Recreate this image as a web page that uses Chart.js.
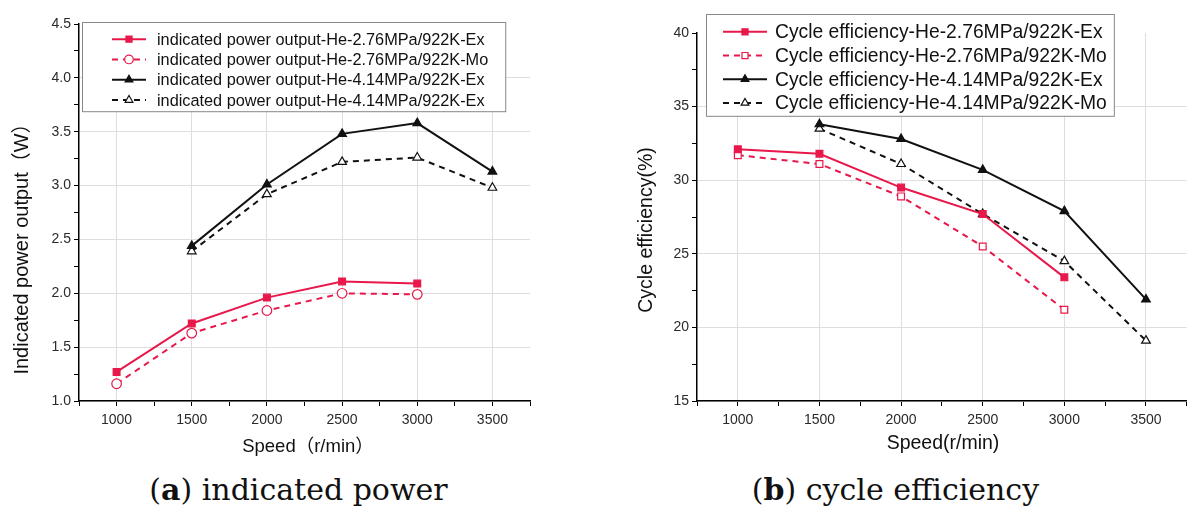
<!DOCTYPE html>
<html>
<head>
<meta charset="utf-8">
<script src="https://cdn.jsdelivr.net/npm/chart.js"></script>
<style>
  html, body { margin: 0; padding: 0; background: #fff; }
  #wrap { position: relative; width: 1193px; height: 520px; overflow: hidden; }
  canvas { position: absolute; top: 0; }
  .caption { position: absolute; top: 472px; width: 597px; text-align: center;
             font-family: "DejaVu Serif", serif; font-size: 30px; color: #111; }
</style>
</head>
<body>
<div id="wrap">
  <canvas id="powerChart" width="597" height="470" style="left:0"></canvas>
  <canvas id="effChart" width="596" height="470" style="left:597px"></canvas>
  <div class="caption" style="left:0">(<b>a</b>) indicated power</div>
  <div class="caption" style="left:597px">(<b>b</b>) cycle efficiency</div>
</div>
<script>
// speeds on the x axis (r/min)
const speeds = [1000, 1500, 2000, 2500, 3000, 3500];

// (a) indicated power output (W)
const powerLabels = [
  'indicated power output-He-2.76MPa/922K-Ex',
  'indicated power output-He-2.76MPa/922K-Mo',
  'indicated power output-He-4.14MPa/922K-Ex',
  'indicated power output-He-4.14MPa/922K-Ex'
];
const power276Ex = [1.27, 1.72, 1.96, 2.11, 2.09, null];
const power276Mo = [1.16, 1.63, 1.84, 2.00, 1.99, null];
const power414Ex = [null, 2.44, 3.01, 3.48, 3.58, 3.13];
const power414Mo = [null, 2.39, 2.92, 3.22, 3.26, 2.98];

// (b) cycle efficiency (%)
const effLabels = [
  'Cycle efficiency-He-2.76MPa/922K-Ex',
  'Cycle efficiency-He-2.76MPa/922K-Mo',
  'Cycle efficiency-He-4.14MPa/922K-Ex',
  'Cycle efficiency-He-4.14MPa/922K-Mo'
];
const eff276Ex = [32.1, 31.8, 29.5, 27.7, 23.4, null];
const eff276Mo = [31.7, 31.1, 28.9, 25.5, 21.2, null];
const eff414Ex = [null, 33.8, 32.8, 30.7, 27.9, 21.9];
const eff414Mo = [null, 33.5, 31.1, 27.7, 24.5, 19.1];

const FONT = '"Liberation Sans", Arial, "Noto Sans CJK SC", sans-serif';
const RED = '#e8184a';
const BLACK = '#111';

function points(vals) {
  return speeds.map((s, i) => ({ x: s, y: vals[i] }));
}

// build one dataset; dashed = model curve with hollow marker
function series(label, vals, color, dashed, style) {
  return {
    label: label,
    data: points(vals),
    borderColor: color,
    borderWidth: 2,
    borderDash: dashed ? [6, 5] : [],
    pointStyle: style,
    pointRadius: style === 'triangle' ? 5 : 4.8,
    pointBorderWidth: 1.2,
    pointBorderColor: color,
    pointBackgroundColor: dashed ? '#fff' : color,
    spanGaps: false
  };
}

// legend drawn as a framed box inside the plot
const boxLegend = {
  id: 'boxLegend',
  afterDraw(chart, args, opts) {
    const ctx = chart.ctx;
    const sets = chart.data.datasets;
    ctx.save();
    ctx.font = opts.fontSize + 'px ' + FONT;
    const textW = Math.max(...sets.map(d => ctx.measureText(d.label).width));
    const w = opts.textX - opts.x + textW + opts.padRight;
    const h = opts.rowH * sets.length + opts.padTop + opts.padBottom;
    ctx.fillStyle = '#fff';
    ctx.fillRect(opts.x, opts.y, w, h);
    ctx.strokeStyle = '#888';
    ctx.lineWidth = 1;
    ctx.strokeRect(opts.x + 0.5, opts.y + 0.5, w, h);
    sets.forEach((d, i) => {
      const y = opts.y + opts.padTop + opts.rowH * (i + 0.5);
      const cx = (opts.lineX0 + opts.lineX1) / 2;
      ctx.strokeStyle = d.borderColor;
      ctx.lineWidth = d.borderWidth;
      ctx.setLineDash(d.borderDash);
      ctx.beginPath();
      ctx.moveTo(opts.lineX0, y);
      ctx.lineTo(opts.lineX1, y);
      ctx.stroke();
      ctx.setLineDash([]);
      ctx.fillStyle = d.pointBackgroundColor;
      ctx.strokeStyle = d.pointBorderColor;
      ctx.lineWidth = d.pointBorderWidth;
      Chart.helpers.drawPoint(ctx, {
        pointStyle: d.pointStyle, radius: d.pointRadius - 0.5, rotation: 0, borderWidth: d.pointBorderWidth
      }, cx, y);
      ctx.fillStyle = '#111';
      ctx.textBaseline = 'middle';
      ctx.textAlign = 'left';
      ctx.fillText(d.label, opts.textX, y + 1);
    });
    ctx.restore();
  }
};

// axis titles placed where the original figure has them
const axisTitles = {
  id: 'axisTitles',
  afterDraw(chart, args, opts) {
    const ctx = chart.ctx;
    ctx.save();
    ctx.fillStyle = '#111';
    ctx.textAlign = 'center';
    ctx.textBaseline = 'middle';
    ctx.font = opts.xSize + 'px ' + FONT;
    ctx.fillText(opts.xText, opts.xAt[0], opts.xAt[1]);
    ctx.font = opts.ySize + 'px ' + FONT;
    ctx.translate(opts.yAt[0], opts.yAt[1]);
    ctx.rotate(-Math.PI / 2);
    ctx.fillText(opts.yText, 0, 0);
    ctx.restore();
  }
};

function makeChart(id, cfg) {
  const majorX = v => v % 500 === 0;
  const tickFont = { family: FONT, size: 14 };
  return new Chart(document.getElementById(id), {
    type: 'line',
    data: { datasets: cfg.datasets },
    options: {
      responsive: false,
      animation: false,
      devicePixelRatio: 1,
      layout: { padding: cfg.padding },
      plugins: {
        legend: { display: false },
        tooltip: { enabled: false },
        boxLegend: cfg.legend,
        axisTitles: cfg.titles
      },
      scales: {
        x: {
          type: 'linear', min: 750, max: 3750,
          afterFit: s => { s.height = cfg.xHeight; },
          border: { color: '#000', width: 1.5 },
          grid: {
            color: c => (c.tick && majorX(c.tick.value)) ? '#dedede' : 'transparent',
            tickColor: '#000', tickLength: 5, tickWidth: 1
          },
          ticks: {
            stepSize: 250, autoSkip: false, maxRotation: 0, padding: 6,
            color: '#2a2a2a', font: tickFont,
            callback: v => majorX(v) ? String(v) : ''
          }
        },
        y: {
          min: cfg.yMin, max: cfg.yMax,
          afterFit: s => { s.width = cfg.yWidth; },
          border: { color: '#000', width: 1.5 },
          grid: {
            color: c => (c.tick && cfg.majorY(c.tick.value) && c.tick.value !== cfg.yMax) ? '#dedede' : 'transparent',
            tickColor: '#000', tickLength: 5, tickWidth: 1
          },
          ticks: {
            stepSize: cfg.yStep, autoSkip: false, padding: 3,
            color: '#2a2a2a', font: tickFont,
            callback: v => cfg.majorY(v) ? cfg.fmtY(v) : ''
          }
        }
      }
    },
    plugins: [boxLegend, axisTitles]
  });
}

makeChart('powerChart', {
  datasets: [
    series(powerLabels[0], power276Ex, RED, false, 'rect'),
    series(powerLabels[1], power276Mo, RED, true, 'circle'),
    series(powerLabels[2], power414Ex, BLACK, false, 'triangle'),
    series(powerLabels[3], power414Mo, BLACK, true, 'triangle')
  ],
  padding: { left: 0, right: 67, top: 24, bottom: 0 },
  xHeight: 69, yWidth: 79,
  yMin: 1, yMax: 4.5, yStep: 0.25,
  majorY: v => Math.abs(v * 2 - Math.round(v * 2)) < 1e-6,
  fmtY: v => v.toFixed(1),
  titles: { xSize: 18.5, ySize: 20, xText: 'Speed（r/min）', xAt: [308, 447], yText: 'Indicated power output（W）', yAt: [22, 244] },
  legend: { x: 82, y: 22, padTop: 7, padBottom: 1, rowH: 20.3, fontSize: 16.3, lineX0: 112, lineX1: 146, textX: 157, padRight: 17 }
});

makeChart('effChart', {
  datasets: [
    series(effLabels[0], eff276Ex, RED, false, 'rect'),
    series(effLabels[1], eff276Mo, RED, true, 'rect'),
    series(effLabels[2], eff414Ex, BLACK, false, 'triangle'),
    series(effLabels[3], eff414Mo, BLACK, true, 'triangle')
  ],
  padding: { left: 0, right: 2, top: 33, bottom: 0 },
  xHeight: 69, yWidth: 100,
  yMin: 15, yMax: 40, yStep: 2.5,
  majorY: v => v % 5 === 0,
  fmtY: v => String(v),
  titles: { xSize: 19.5, ySize: 19.5, xText: 'Speed(r/min)', xAt: [346, 444], yText: 'Cycle efficiency(%)', yAt: [50, 230] },
  legend: { x: 109, y: 14, padTop: 6, padBottom: 1, rowH: 23.7, fontSize: 19.3, lineX0: 126, lineX1: 170, textX: 178, padRight: 7 }
});
</script>
</body>
</html>
